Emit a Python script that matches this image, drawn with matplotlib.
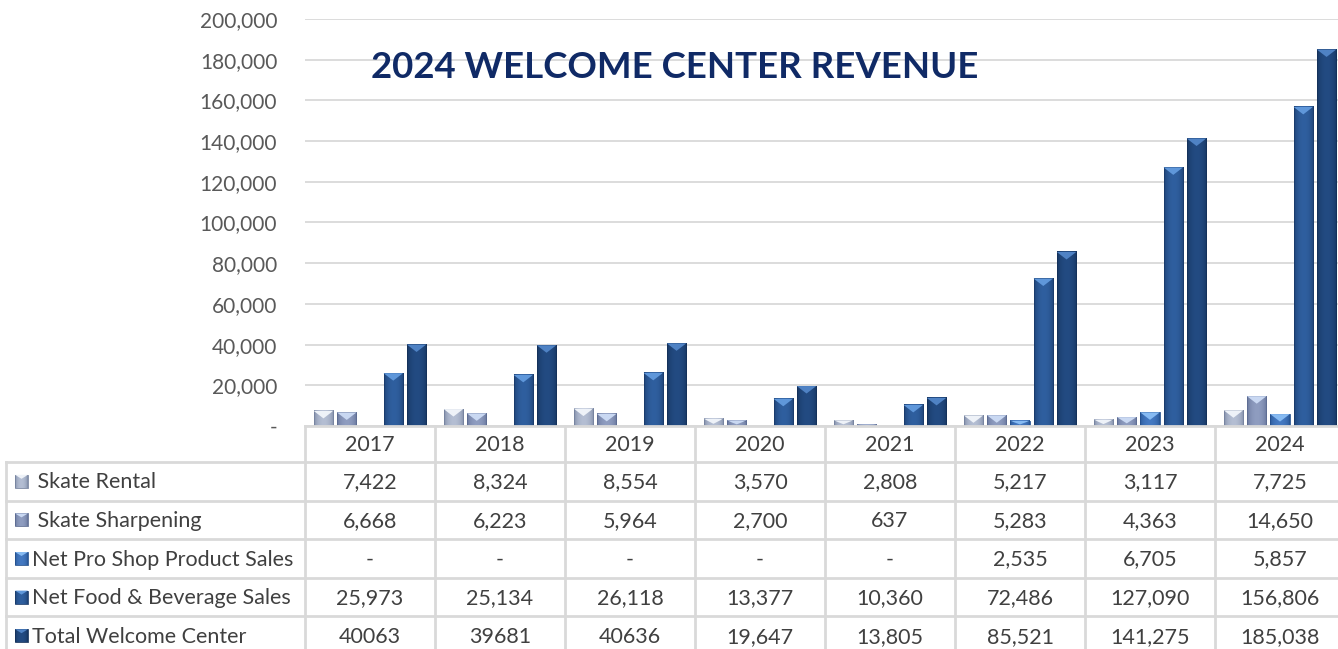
import numpy as np
import matplotlib
matplotlib.use('Agg')
import matplotlib.pyplot as plt
from matplotlib.patches import Polygon, Rectangle
from matplotlib.ticker import FuncFormatter, MultipleLocator
from matplotlib.colors import to_rgb

# data
years = ['2017', '2018', '2019', '2020', '2021', '2022', '2023', '2024']
skate_rental = [7422, 8324, 8554, 3570, 2808, 5217, 3117, 7725]
skate_sharpening = [6668, 6223, 5964, 2700, 637, 5283, 4363, 14650]
pro_shop_sales = [0, 0, 0, 0, 0, 2535, 6705, 5857]
food_bev_sales = [25973, 25134, 26118, 13377, 10360, 72486, 127090, 156806]
total_welcome = [40063, 39681, 40636, 19647, 13805, 85521, 141275, 185038]
series_names = [' Skate Rental', ' Skate Sharpening', 'Net Pro Shop Product Sales',
                'Net Food & Beverage Sales', 'Total Welcome Center']
plain_total_years = ['2017', '2018', '2019']  # total shown without thousands separator
title = '2024 WELCOME CENTER REVENUE'

series = [skate_rental, skate_sharpening, pro_shop_sales, food_bev_sales, total_welcome]
# (edge, body, bevel top)
colors = [
    ('#76839f', '#b4bed3', '#eef2f8'),
    ('#5d6c92', '#8f9dc0', '#c9d8f2'),
    ('#24518f', '#4479c2', '#86baf2'),
    ('#1a3c6c', '#2f5f9f', '#5f97da'),
    ('#14315a', '#234b82', '#4f82c4'),
]

plt.rcParams['font.family'] = ['Lato', 'DejaVu Sans']

W, H = 1338, 649
fig = plt.figure(figsize=(W / 100, H / 100), dpi=100)

# layout (pixels)
X_LEFT, X0, COLW = 6, 305, 130
AX_TOP, AX_BOT = 19, 426
HDR_BOT, ROWH = 462, 38.6
GRID = '#d9d9d9'

ax = fig.add_axes([X0 / W, 1 - AX_BOT / H, len(years) * COLW / W, (AX_BOT - AX_TOP) / H])
ymax = 200000
px_per_unit = (AX_BOT - AX_TOP) / ymax


def grad_row(edge, body, n=40):
    t = np.linspace(0, 1, n)
    w = np.sin(np.pi * t) ** 0.5
    e, b = np.array(to_rgb(edge)), np.array(to_rgb(body))
    return (e[None, :] * (1 - w[:, None]) + b[None, :] * w[:, None])[None, :, :]


def bevel(axis, x0, x1, base, top, cols, depth, z=3):
    edge, body, light = cols
    lo, hi = min(base, top), max(base, top)
    axis.imshow(grad_row(edge, body), extent=(x0, x1, lo, hi), aspect='auto',
                interpolation='bilinear', zorder=z)
    axis.add_patch(Rectangle((x0, lo), x1 - x0, hi - lo, fill=False, ec=edge, lw=0.6, zorder=z + 0.1))
    sign = 1 if top < base else -1
    d = min(depth, abs(top - base) * 0.7)
    axis.add_patch(Polygon([(x0, top), (x1, top), ((x0 + x1) / 2, top + sign * d)],
                           closed=True, fc=light, ec='none', zorder=z + 0.2))


x = np.arange(len(years))
step, bw = 0.179, 0.15
for k, vals in enumerate(series):
    for i, v in enumerate(vals):
        if v <= 0:
            continue
        cx = x[i] + (k - 2) * step
        bevel(ax, cx - bw / 2, cx + bw / 2, 0, v, colors[k], 7.5 / px_per_unit)

ax.set_xlim(-0.5, len(years) - 0.5)
ax.set_ylim(0, ymax)
ax.yaxis.set_major_locator(MultipleLocator(20000))
ax.yaxis.set_major_formatter(FuncFormatter(lambda v, p: '-' if v == 0 else f'{v:,.0f}'))
ax.grid(axis='y', color=GRID, lw=1.3, zorder=0)
ax.set_axisbelow(True)
ax.tick_params(axis='y', length=0, pad=20, labelsize=15, labelcolor='#595959')
ax.tick_params(axis='x', length=0, labelbottom=False)
for s in ax.spines.values():
    s.set_visible(False)

fig.text(675 / W, 1 - 68 / H, title, ha='center', va='center', fontsize=26.4,
         fontweight='bold', color='#102a66')

# data table
tab = fig.add_axes([0, 0, 1, 1], zorder=5)
tab.set_xlim(0, W)
tab.set_ylim(H, 0)
tab.axis('off')
tab.patch.set_alpha(0)

txt = '#404040'
fs = 15.5
lw = 2
ncol = len(years)
x_right = X0 + ncol * COLW
row_edges = [HDR_BOT + ROWH * r for r in range(len(series) + 1)]

# header
tab.plot([X0, x_right], [AX_BOT, AX_BOT], color=GRID, lw=lw)
for c in range(ncol + 1):
    tab.plot([X0 + c * COLW] * 2, [AX_BOT, row_edges[-1]], color=GRID, lw=lw)
for c, yr in enumerate(years):
    tab.text(X0 + (c + 0.5) * COLW, (AX_BOT + HDR_BOT) / 2 + 1, yr, ha='center', va='center',
             fontsize=fs, color=txt)

tab.plot([X_LEFT, X_LEFT], [HDR_BOT, row_edges[-1]], color=GRID, lw=lw)
for yb in row_edges:
    tab.plot([X_LEFT, x_right], [yb, yb], color=GRID, lw=lw)


def cell_label(k, yr, v):
    if v == 0:
        return '-'
    if k == len(series) - 1 and yr in plain_total_years:
        return str(v)
    return f'{v:,}'


for k, (name, vals) in enumerate(zip(series_names, series)):
    yc = row_edges[k] + ROWH / 2
    bevel(tab, 15, 28, yc + 6.5, yc - 6.5, colors[k], 4, z=6)
    tab.text(32, yc + 1, name, ha='left', va='center', fontsize=fs, color=txt)
    for c, (yr, v) in enumerate(zip(years, vals)):
        tab.text(X0 + (c + 0.5) * COLW, yc + 1, cell_label(k, yr, v), ha='center',
                 va='center', fontsize=fs, color=txt)

tab.set_xlim(0, W)
tab.set_ylim(H, 0)

fig.savefig('out.png', dpi=100)
